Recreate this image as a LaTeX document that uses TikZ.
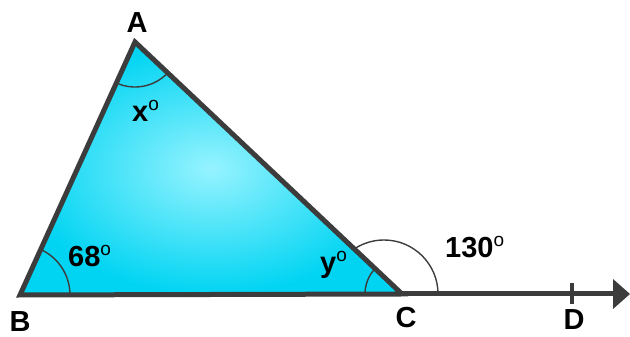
\documentclass[tikz,border=0pt]{standalone}
\usepackage{fontspec}
\setmainfont{Liberation Sans}
\definecolor{edgecol}{HTML}{3C3C3C}
\definecolor{cyanout}{RGB}{0,212,242}
\definecolor{cyanin}{RGB}{150,243,255}
\newcommand{\dg}{\raisebox{0.38em}{\fontsize{19}{19}\selectfont\mdseries o}}
\tikzset{
  lab/.style={font=\fontsize{29}{29}\selectfont\bfseries, inner sep=0pt, text=black},
  arcst/.style={draw=edgecol, line width=1.4pt},
  thickedge/.style={draw=edgecol, line width=5pt}
}
\begin{document}
\begin{tikzpicture}[x=1pt,y=1pt]
\useasboundingbox (0,0) rectangle (630,337);
\coordinate (A) at (135,295);
\coordinate (B) at (20,42);
\coordinate (C) at (402,43);
\coordinate (E) at (630,43);
\coordinate (F) at (614,43);
\coordinate (D) at (572,43);
\coordinate (O) at (384,43);
\shade[inner color=cyanin, outer color=cyanout] (A)--(B)--(C)--cycle;
\draw[arcst] ([shift={(245.6:45)}]A) arc[start angle=245.6, end angle=316.7, radius=45];
\draw[arcst] ([shift={(0:50)}]B) arc[start angle=0, end angle=65.6, radius=50];
\draw[arcst] ([shift={(136.7:37)}]C) arc[start angle=136.7, end angle=180, radius=37];
\draw[arcst] ([shift={(0:54)}]O) arc[start angle=0, end angle=122, radius=54];
\draw[thickedge, line join=miter] (A)--(B)--(C)--cycle;
\draw[thickedge] (C) -- (F);
\fill[edgecol] (E) -- ([shift={(-17,15)}]E) -- ([shift={(-17,-15)}]E) -- cycle;
\draw[draw=edgecol, line width=4pt] ([yshift=-10]D) -- ([yshift=11]D);
\node[lab, anchor=base] (lA) at (137,304) {A};
\node[lab, anchor=base] (lB) at (20,5) {B};
\node[lab, anchor=base] (lC) at (406,9) {C};
\node[lab, anchor=base] (lD) at (574,7) {D};
\node[lab, anchor=base west] (l68) at (68,70) {68\dg};
\node[lab, anchor=base west] (lx) at (132,215) {x\dg};
\node[lab, anchor=base west] (ly) at (320,64) {y\dg};
\node[lab, anchor=base west] (l130) at (445,79) {130\dg};
\end{tikzpicture}
\end{document}
